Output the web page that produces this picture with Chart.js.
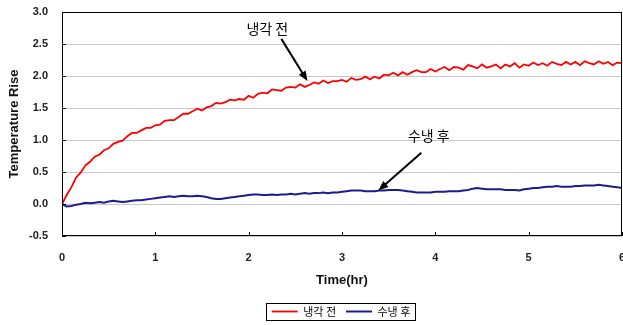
<!DOCTYPE html>
<html>
<head>
<meta charset="utf-8">
<script src="https://cdn.jsdelivr.net/npm/chart.js@4.4.1/dist/chart.umd.min.js"></script>
<style>
  html, body { margin: 0; padding: 0; background: #fff; }
  #wrap { width: 623px; height: 325px; position: relative; }
</style>
</head>
<body>
<div id="wrap"><canvas id="tempChart"></canvas></div>
<script>
// ---- data ----
const timeHr = [
  0, 0.05, 0.1, 0.15, 0.2, 0.25, 0.3, 0.35, 0.4, 0.45,
  0.5, 0.55, 0.6, 0.65, 0.7, 0.75, 0.8, 0.85, 0.9, 0.95,
  1, 1.05, 1.1, 1.15, 1.2, 1.25, 1.3, 1.35, 1.4, 1.45,
  1.5, 1.55, 1.6, 1.65, 1.7, 1.75, 1.8, 1.85, 1.9, 1.95,
  2, 2.05, 2.1, 2.15, 2.2, 2.25, 2.3, 2.35, 2.4, 2.45,
  2.5, 2.55, 2.6, 2.65, 2.7, 2.75, 2.8, 2.85, 2.9, 2.95,
  3, 3.05, 3.1, 3.15, 3.2, 3.25, 3.3, 3.35, 3.4, 3.45,
  3.5, 3.55, 3.6, 3.65, 3.7, 3.75, 3.8, 3.85, 3.9, 3.95,
  4, 4.05, 4.1, 4.15, 4.2, 4.25, 4.3, 4.35, 4.4, 4.45,
  4.5, 4.55, 4.6, 4.65, 4.7, 4.75, 4.8, 4.85, 4.9, 4.95,
  5, 5.05, 5.1, 5.15, 5.2, 5.25, 5.3, 5.35, 5.4, 5.45,
  5.5, 5.55, 5.6, 5.65, 5.7, 5.75, 5.8, 5.85, 5.9, 5.95,
  6
];

const beforeCooling = [
  0.00, 0.14, 0.26, 0.41, 0.49, 0.60, 0.66, 0.74, 0.77, 0.84,
  0.87, 0.94, 0.97, 0.99, 1.06, 1.11, 1.11, 1.15, 1.19, 1.19,
  1.23, 1.24, 1.30, 1.31, 1.31, 1.36, 1.41, 1.41, 1.45, 1.49,
  1.46, 1.51, 1.53, 1.58, 1.57, 1.59, 1.63, 1.62, 1.64, 1.63,
  1.69, 1.66, 1.72, 1.74, 1.73, 1.79, 1.78, 1.77, 1.82, 1.83,
  1.82, 1.87, 1.83, 1.86, 1.90, 1.88, 1.93, 1.89, 1.92, 1.92,
  1.94, 1.91, 1.97, 1.94, 1.95, 1.99, 1.95, 1.99, 1.96, 2.02,
  2.01, 2.05, 2.01, 2.06, 2.02, 2.06, 2.09, 2.06, 2.06, 2.11,
  2.07, 2.11, 2.14, 2.09, 2.14, 2.13, 2.10, 2.17, 2.15, 2.12,
  2.18, 2.13, 2.15, 2.18, 2.12, 2.18, 2.15, 2.20, 2.13, 2.18,
  2.16, 2.21, 2.17, 2.20, 2.16, 2.22, 2.19, 2.17, 2.22, 2.18,
  2.22, 2.17, 2.23, 2.20, 2.18, 2.23, 2.19, 2.22, 2.17, 2.21,
  2.20
];

const afterCooling = [
  0.00, -0.04, -0.03, -0.01, 0.00, 0.02, 0.01, 0.02, 0.03, 0.02,
  0.04, 0.05, 0.04, 0.03, 0.04, 0.05, 0.06, 0.06, 0.07, 0.08,
  0.09, 0.10, 0.11, 0.12, 0.11, 0.12, 0.13, 0.12, 0.12, 0.13,
  0.12, 0.11, 0.09, 0.08, 0.08, 0.09, 0.10, 0.11, 0.12, 0.13,
  0.14, 0.15, 0.15, 0.14, 0.14, 0.15, 0.14, 0.15, 0.15, 0.16,
  0.15, 0.16, 0.17, 0.16, 0.17, 0.17, 0.18, 0.17, 0.18, 0.18,
  0.19, 0.20, 0.21, 0.21, 0.21, 0.20, 0.20, 0.20, 0.21, 0.21,
  0.22, 0.22, 0.22, 0.21, 0.20, 0.19, 0.18, 0.18, 0.18, 0.18,
  0.19, 0.19, 0.19, 0.20, 0.20, 0.20, 0.21, 0.22, 0.24, 0.25,
  0.24, 0.23, 0.23, 0.23, 0.23, 0.22, 0.22, 0.22, 0.21, 0.23,
  0.24, 0.25, 0.25, 0.26, 0.27, 0.27, 0.28, 0.27, 0.27, 0.27,
  0.28, 0.28, 0.29, 0.29, 0.29, 0.30, 0.29, 0.28, 0.27, 0.26,
  0.25
];

const seriesLabels = ['냉각 전', '수냉 후'];
const xTicks = [0, 1, 2, 3, 4, 5, 6];
const yTicks = [-0.5, 0, 0.5, 1, 1.5, 2, 2.5, 3];

// callouts: label centre and arrow, in data units (hr, rise)
const noteText = ['냉각 전', '수냉 후'];
const noteAt   = [[2.20, 2.74], [3.93, 1.07]];
const noteFrom = [[2.35, 2.58], [3.85, 0.80]];
const noteTo   = [[2.63, 1.92], [3.39, 0.21]];

const AXIS_FONT = "'Liberation Sans', Arial, sans-serif";
const KR_FONT = "'Noto Sans CJK KR', 'Noto Sans', sans-serif";

// ---- extra drawing: frame, inner ticks, callouts, legend box ----
const decorPlugin = {
  id: 'decor',
  afterLayout(chart) {
    // legend sits under the plot area centre, not the canvas centre
    const lg = chart.legend;
    if (lg) {
      lg.left += 30; lg.right += 30;
      lg.top += 2; lg.bottom += 2;
    }
  },
  afterDatasetsDraw(chart) {
    const { ctx, chartArea: a, scales } = chart;
    const xs = scales.x, ys = scales.y;
    ctx.save();

    // frame
    ctx.strokeStyle = '#000';
    ctx.lineWidth = 1;
    ctx.strokeRect(a.left + 0.5, a.top + 0.5, a.right - a.left - 1, a.bottom - a.top - 1);

    // small inward tick marks
    ctx.beginPath();
    xTicks.forEach(v => {
      const px = Math.round(xs.getPixelForValue(v)) + 0.5;
      ctx.moveTo(px, a.bottom);
      ctx.lineTo(px, a.bottom - 4);
    });
    yTicks.forEach(v => {
      const py = Math.round(ys.getPixelForValue(v)) + 0.5;
      ctx.moveTo(a.left, py);
      ctx.lineTo(a.left + 4, py);
    });
    ctx.stroke();

    // callouts
    ctx.fillStyle = '#000';
    ctx.font = '14px ' + KR_FONT;
    ctx.textAlign = 'center';
    ctx.textBaseline = 'middle';
    noteText.forEach((txt, i) => {
      ctx.fillText(txt, xs.getPixelForValue(noteAt[i][0]), ys.getPixelForValue(noteAt[i][1]));
      const x1 = xs.getPixelForValue(noteFrom[i][0]), y1 = ys.getPixelForValue(noteFrom[i][1]);
      const x2 = xs.getPixelForValue(noteTo[i][0]),   y2 = ys.getPixelForValue(noteTo[i][1]);
      const ang = Math.atan2(y2 - y1, x2 - x1);
      ctx.lineWidth = 2;
      ctx.beginPath();
      ctx.moveTo(x1, y1);
      ctx.lineTo(x2 - 6 * Math.cos(ang), y2 - 6 * Math.sin(ang));
      ctx.stroke();
      ctx.beginPath();
      ctx.moveTo(x2, y2);
      ctx.lineTo(x2 - 10 * Math.cos(ang) + 4 * Math.sin(ang), y2 - 10 * Math.sin(ang) - 4 * Math.cos(ang));
      ctx.lineTo(x2 - 10 * Math.cos(ang) - 4 * Math.sin(ang), y2 - 10 * Math.sin(ang) + 4 * Math.cos(ang));
      ctx.closePath();
      ctx.fill();
    });
    ctx.restore();
  },
  afterDraw(chart) {
    const boxes = chart.legend && chart.legend.legendHitBoxes;
    if (!boxes || !boxes.length) return;
    const ctx = chart.ctx;
    const left = Math.min(...boxes.map(b => b.left));
    const right = Math.max(...boxes.map(b => b.left + b.width));
    const top = Math.min(...boxes.map(b => b.top));
    const bottom = Math.max(...boxes.map(b => b.top + b.height));
    ctx.save();
    ctx.strokeStyle = '#000';
    ctx.lineWidth = 1;
    ctx.strokeRect(Math.round(left - 6) + 0.5, Math.round(top - 3) + 0.5,
                   Math.round(right - left + 10), Math.round(bottom - top + 6));
    ctx.restore();
  }
};

const ctx = document.getElementById('tempChart').getContext('2d');
new Chart(ctx, {
  type: 'line',
  data: {
    datasets: [
      {
        label: seriesLabels[0],
        data: timeHr.map((t, i) => ({ x: t, y: beforeCooling[i] })),
        borderColor: '#ff0000',
        backgroundColor: '#ff0000',
        borderWidth: 1.8,
        pointRadius: 0,
        pointStyle: 'line',
        tension: 0
      },
      {
        label: seriesLabels[1],
        data: timeHr.map((t, i) => ({ x: t, y: afterCooling[i] })),
        borderColor: '#1c1c90',
        backgroundColor: '#1c1c90',
        borderWidth: 2,
        pointRadius: 0,
        pointStyle: 'line',
        tension: 0
      }
    ]
  },
  options: {
    responsive: true,
    maintainAspectRatio: false,
    animation: false,
    layout: { padding: { left: 0, right: 1, top: 12, bottom: 0 } },
    plugins: {
      tooltip: { enabled: false },
      legend: {
        position: 'bottom',
        labels: {
          usePointStyle: true,
          pointStyleWidth: 26,
          boxHeight: 11,
          padding: 10,
          color: '#000',
          font: { family: KR_FONT, size: 11 }
        }
      }
    },
    scales: {
      x: {
        type: 'linear',
        min: 0,
        max: 6,
        afterFit: s => { s.height = 58; s.paddingLeft = 0; s.paddingRight = 0; },
        afterBuildTicks: s => { s.ticks = xTicks.map(v => ({ value: v })); },
        grid: { display: false },
        border: { display: false },
        ticks: {
          padding: 7,
          color: '#222',
          font: { family: AXIS_FONT, size: 11, weight: 'bold' }
        },
        title: {
          display: true,
          text: 'Time(hr)',
          color: '#111',
          padding: { top: 0, bottom: 6 },
          font: { family: AXIS_FONT, size: 13, weight: 'bold' }
        }
      },
      y: {
        min: -0.5,
        max: 3.0,
        afterFit: s => { s.width = 62; s.paddingTop = 0; s.paddingBottom = 0; },
        afterBuildTicks: s => { s.ticks = yTicks.map(v => ({ value: v })); },
        grid: { color: '#c8c8c8', lineWidth: 1, drawTicks: false },
        border: { display: false },
        ticks: {
          padding: 14,
          color: '#222',
          callback: v => Number(v).toFixed(1),
          font: { family: AXIS_FONT, size: 11, weight: 'bold' }
        },
        title: {
          display: true,
          text: 'Temperature Rise',
          color: '#111',
          padding: { top: 7, bottom: 0 },
          font: { family: AXIS_FONT, size: 13, weight: 'bold' }
        }
      }
    }
  },
  plugins: [decorPlugin]
});
</script>
</body>
</html>
